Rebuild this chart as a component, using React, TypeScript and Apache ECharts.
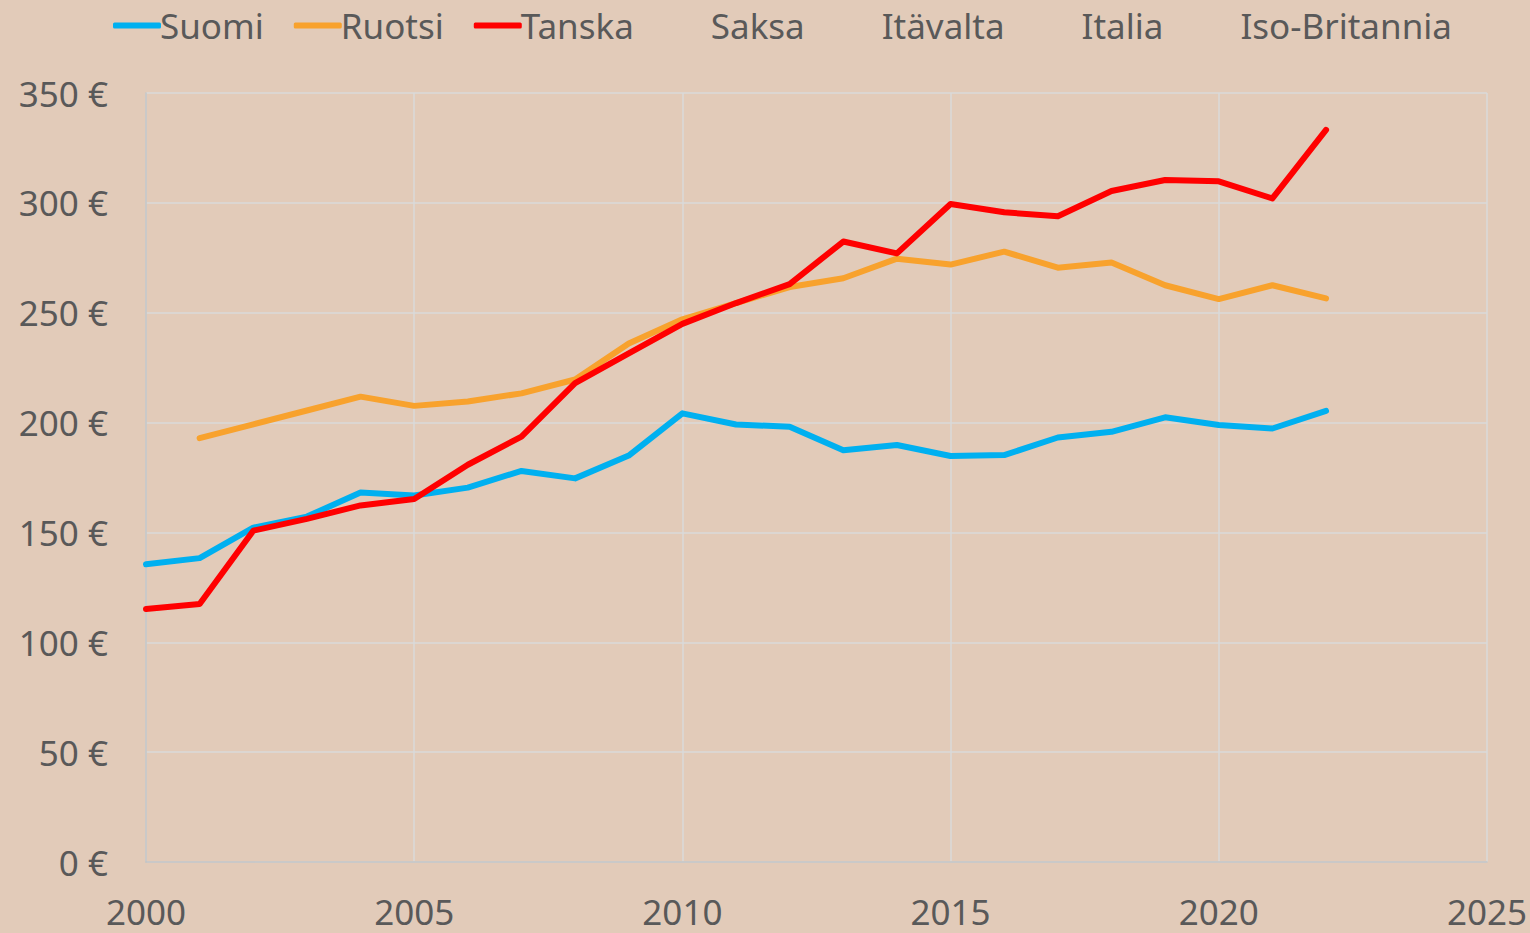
import React, { useEffect, useRef } from "react";
import * as echarts from "echarts";

const years = [2000, 2001, 2002, 2003, 2004, 2005, 2006, 2007, 2008, 2009, 2010, 2011, 2012, 2013, 2014, 2015, 2016, 2017, 2018, 2019, 2020, 2021, 2022];
const suomi = [135.5, 138.3, 152.2, 157.2, 168.2, 166.8, 170.4, 178, 174.6, 185, 204.2, 199.1, 198.1, 187.4, 189.8, 184.8, 185.2, 193.2, 195.8, 202.4, 198.9, 197.3, 205.3];
const ruotsi = [null, 192.9, 199.2, 205.5, 211.8, 207.6, 209.6, 213.3, 219.6, 236, 247, 254.4, 261.7, 265.7, 274.6, 271.9, 277.8, 270.5, 272.9, 262.5, 256.2, 262.5, 256.5];
const tanska = [115.2, 117.4, 150.8, 156.2, 162.3, 165.2, 180.8, 193.6, 217.9, 231.5, 244.9, 254.4, 263, 282.4, 277, 299.5, 295.7, 293.9, 305.4, 310.4, 309.8, 302, 333.2];
const seriesNames = ["Suomi", "Ruotsi", "Tanska", "Saksa", "Itävalta", "Italia", "Iso-Britannia"];
const seriesColors = ["#00b0f0", "#f8a22d", "#ff0000", "transparent", "transparent", "transparent", "transparent"];
const yTicks = { min: 0, max: 350, interval: 50 };
const xTicks = { min: 2000, max: 2025, interval: 5 };

const FONT = "'Noto Sans', 'Open Sans', sans-serif";
const TEXT = "#595959";

export default function App() {
  const ref = useRef<HTMLDivElement>(null);
  useEffect(() => {
    document.body.style.margin = "0";
    const chart = echarts.init(ref.current!, null, { renderer: "svg" });
    const dataFor = [suomi, ruotsi, tanska, [], [], [], []];
    chart.setOption({
      animation: false,
      backgroundColor: "#e2cbb9",
      textStyle: { fontFamily: FONT },
      legend: {
        left: 108,
        top: 3,
        icon: "roundRect",
        itemWidth: 48,
        itemHeight: 6,
        itemGap: 30,
        textStyle: { fontFamily: FONT, fontSize: 35, color: TEXT, padding: [0, 0, 0, -6] },
        data: seriesNames,
      },
      grid: { left: 146, right: 38, top: 93, bottom: 71 },
      xAxis: {
        type: "value",
        min: xTicks.min,
        max: xTicks.max,
        interval: xTicks.interval,
        axisLine: { show: true, lineStyle: { color: "#c4c4c4", width: 1.5 } },
        axisTick: { show: false },
        axisLabel: { color: TEXT, fontSize: 35, fontFamily: FONT, margin: 31, lineHeight: 36, formatter: (v: number) => String(v) },
        splitLine: { show: true, lineStyle: { color: "#dadada", width: 1.5 } },
      },
      yAxis: {
        type: "value",
        min: yTicks.min,
        max: yTicks.max,
        interval: yTicks.interval,
        axisLine: { show: true, lineStyle: { color: "#c4c4c4", width: 1.5 } },
        axisTick: { show: false },
        axisLabel: { color: TEXT, fontSize: 35, fontFamily: FONT, margin: 38, formatter: (v: number) => `${v} €` },
        splitLine: { show: true, lineStyle: { color: "#dadada", width: 1.5 } },
      },
      series: seriesNames.map((name, i) => ({
        name,
        type: "line",
        symbol: "none",
        color: seriesColors[i],
        lineStyle: { width: 6, color: seriesColors[i], cap: "round", join: "round" },
        data: (dataFor[i] as (number | null)[]).map((v, j) => [years[j], v]).filter((p) => p[1] !== null),
      })),
    });
    return () => chart.dispose();
  }, []);
  return <div ref={ref} style={{ width: 1530, height: 933 }} />;
}
